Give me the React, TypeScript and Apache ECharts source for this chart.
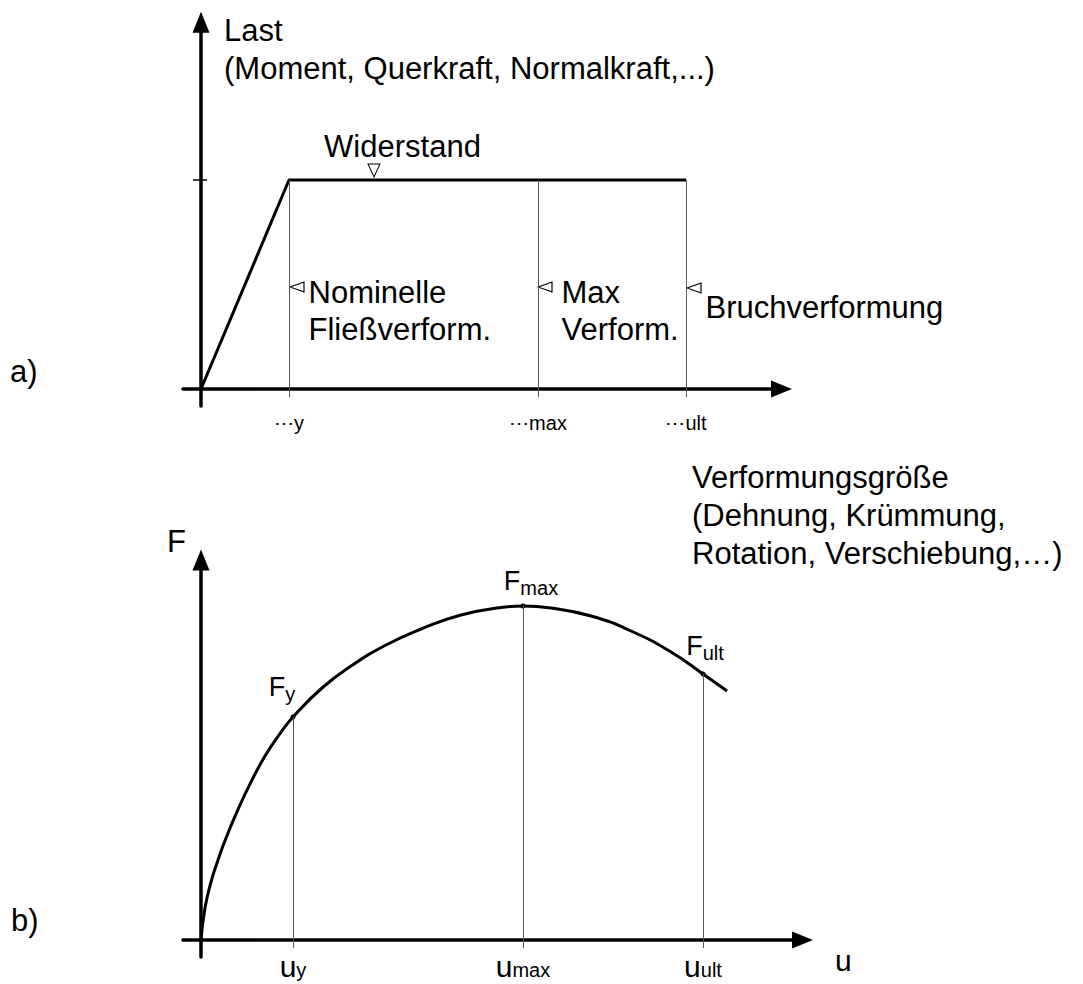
import React, { useEffect, useRef } from 'react';
import * as echarts from 'echarts';

// ---------- Panel a) : Last / Verformung (bilinear idealisation) ----------
const aDeformation = [0, 88, 485];
const aLoad = [0, 209, 209];
const aResistance = 209;
const aMarkValues = [88, 337, 485];
const aMarkLabels = ['⋯y', '⋯max', '⋯ult'];

const aTriangleX = [173, 96, 344, 493];
const aTriangleY = [218.5, 102, 102, 101];
const aTriangleRotate = [180, 90, 90, 90];

const aNotes = ['Widerstand', 'Nominelle\nFließverform.', 'Max\nVerform.', 'Bruchverformung'];
const aNoteX = [201.5, 107, 360, 504];
const aNoteY = [243, 78, 78, 82];

const aYName = 'Last\n(Moment, Querkraft, Normalkraft,...)';
const aXName = 'Verformungsgröße\n(Dehnung, Krümmung,\nRotation, Verschiebung,…)';

// ---------- Panel b) : F / u ----------
const bU = [0, 4, 10, 16, 25, 39, 50, 64, 78, 92, 121, 150, 185, 220, 260, 300, 322, 350, 390, 430, 470, 502, 526];
const bF = [0, 32, 58, 77, 102, 135, 158, 184, 205, 223, 252, 274, 295, 311, 325, 332.5, 334, 332, 324, 309, 288, 266, 249];
const bKeyU = [92, 322, 502];
const bKeyF = [223, 334, 266];
const bKeySub = ['y', 'max', 'ult'];

const panelLabels = ['a)', 'b)'];

const FONT = "'Liberation Sans', Arial, Helvetica, sans-serif";

function buildOption() {
  const axisLine = {
    show: true,
    onZero: true,
    symbol: ['none', 'triangle'],
    symbolSize: [17, 21],
    lineStyle: { color: '#000', width: 3.5 },
  };
  const thin = { type: 'solid', color: '#5a5a5a', width: 1 };

  const keyLabelDist = [11, 6, 9];
  const keyLabelOffset = [[-11, 0], [8, 0], [2, 0]];

  return {
    animation: false,
    backgroundColor: '#fff',
    textStyle: { fontFamily: FONT, color: '#000' },
    title: [
      {
        text: panelLabels[0], left: 10, top: 356, padding: 0,
        textStyle: { fontSize: 31, fontWeight: 'normal', lineHeight: 31, color: '#000', fontFamily: FONT },
      },
      {
        text: panelLabels[1], left: 11, top: 905, padding: 0,
        textStyle: { fontSize: 31, fontWeight: 'normal', lineHeight: 31, color: '#000', fontFamily: FONT },
      },
    ],
    grid: [
      { left: 183, top: 22.2, width: 598.5, height: 383.8, containLabel: false, outerBoundsMode: 'none' },
      { left: 183, top: 560, width: 619.5, height: 397, containLabel: false, outerBoundsMode: 'none' },
    ],
    xAxis: [
      {
        type: 'value', gridIndex: 0, min: -18, max: 580.5,
        axisLine, axisTick: { show: false }, splitLine: { show: false },
        axisLabel: {
          customValues: aMarkValues,
          formatter: (v: number) => aMarkLabels[aMarkValues.indexOf(v)] ?? '',
          fontSize: 20, lineHeight: 20, margin: 7, color: '#000', fontFamily: FONT,
        },
        name: aXName, nameLocation: 'end', nameGap: -89.5, nameMoveOverlap: false,
        nameTextStyle: {
          fontSize: 31, lineHeight: 38, align: 'left', verticalAlign: 'top',
          padding: [69, 0, 0, 0], color: '#000', fontFamily: FONT,
        },
      },
      {
        type: 'value', gridIndex: 1, min: -18, max: 601.5,
        axisLine, axisTick: { show: false }, splitLine: { show: false },
        axisLabel: {
          customValues: bKeyU,
          formatter: (v: number) => `{u|u}{s|${bKeySub[bKeyU.indexOf(v)] ?? ''}}`,
          margin: -5.5, color: '#000', fontSize: 30,
          rich: {
            u: { fontSize: 30, lineHeight: 28, verticalAlign: 'top', fontFamily: FONT, color: '#000' },
            s: { fontSize: 20, lineHeight: 18, verticalAlign: 'bottom', fontFamily: FONT, color: '#000' },
          },
        },
        name: 'u', nameLocation: 'end', nameGap: 32.5, nameMoveOverlap: false,
        nameTextStyle: {
          fontSize: 30, lineHeight: 30, align: 'left', verticalAlign: 'top',
          padding: [5, 0, 0, 0], color: '#000', fontFamily: FONT,
        },
      },
    ],
    yAxis: [
      {
        type: 'value', gridIndex: 0, min: -17, max: 366.8,
        axisLine, axisTick: { show: false }, axisLabel: { show: false }, splitLine: { show: false },
        name: aYName, nameLocation: 'end', nameGap: 10.8, nameMoveOverlap: false,
        nameTextStyle: {
          fontSize: 31, lineHeight: 38, align: 'left', verticalAlign: 'top',
          padding: [0, 0, 0, 23], color: '#000', fontFamily: FONT,
        },
      },
      {
        type: 'value', gridIndex: 1, min: -17, max: 380,
        axisLine, axisTick: { show: false }, axisLabel: { show: false }, splitLine: { show: false },
        name: 'F', nameLocation: 'end', nameGap: 19, nameMoveOverlap: false,
        nameTextStyle: {
          fontSize: 31, lineHeight: 31, align: 'right', verticalAlign: 'middle',
          padding: [0, 15, 0, 0], color: '#000', fontFamily: FONT,
        },
      },
    ],
    series: [
      {
        name: 'Last-Verformung',
        type: 'line', xAxisIndex: 0, yAxisIndex: 0,
        data: aDeformation.map((x, i) => [x, aLoad[i]]),
        symbol: 'none', showSymbol: false, silent: true,
        lineStyle: { color: '#000', width: 3 },
        markLine: {
          silent: true, symbol: ['none', 'none'], label: { show: false },
          lineStyle: thin,
          data: [
            ...aMarkValues.map((v) => [{ coord: [v, -8] }, { coord: [v, aResistance] }]),
            [
              { coord: [-8, aResistance], lineStyle: { type: 'solid', color: '#000', width: 1.5 } },
              { coord: [6, aResistance] },
            ],
          ],
        },
      },
      {
        name: 'Markierungen',
        type: 'scatter', xAxisIndex: 0, yAxisIndex: 0, silent: true, clip: false,
        symbol: 'triangle',
        data: aTriangleX.map((x, i) => ({
          value: [x, aTriangleY[i]],
          symbolRotate: aTriangleRotate[i],
          symbolSize: i === 0 ? [12, 13] : [10, 14],
        })),
        itemStyle: { color: '#fff', borderColor: '#000', borderWidth: 1, opacity: 1 },
      },
      {
        name: 'Beschriftung',
        type: 'scatter', xAxisIndex: 0, yAxisIndex: 0, silent: true, clip: false,
        symbol: 'circle', symbolSize: 1,
        itemStyle: { color: 'rgba(255,255,255,0)', opacity: 1 },
        data: aNoteX.map((x, i) => ({
          value: [x, aNoteY[i]],
          name: aNotes[i],
          label: i === 0 ? { position: 'inside' } : undefined,
        })),
        label: {
          show: true, formatter: '{b}', position: 'right', distance: 0, opacity: 1,
          fontSize: 31, lineHeight: 37, color: '#000', fontFamily: FONT,
        },
      },
      {
        name: 'F-u',
        type: 'line', xAxisIndex: 1, yAxisIndex: 1,
        data: bU.map((u, i) => [u, bF[i]]),
        smooth: 0.5, symbol: 'none', showSymbol: false, silent: true,
        lineStyle: { color: '#000', width: 3 },
        markLine: {
          silent: true, symbol: ['none', 'none'], label: { show: false },
          lineStyle: thin,
          data: bKeyU.map((u, i) => [{ coord: [u, -8] }, { coord: [u, bKeyF[i]] }]),
        },
      },
      {
        name: 'Kennpunkte',
        type: 'scatter', xAxisIndex: 1, yAxisIndex: 1, silent: true, clip: false,
        symbol: 'circle', symbolSize: 5,
        itemStyle: { color: '#000', opacity: 1 },
        data: bKeyU.map((u, i) => ({
          value: [u, bKeyF[i]],
          label: {
            formatter: `{m|F}{s|${bKeySub[i]}}`,
            distance: keyLabelDist[i],
            offset: keyLabelOffset[i],
          },
        })),
        label: {
          show: true, position: 'top', color: '#000', opacity: 1,
          rich: {
            m: { fontSize: 27, lineHeight: 30, verticalAlign: 'top', fontFamily: FONT, color: '#000' },
            s: { fontSize: 20, lineHeight: 20, verticalAlign: 'bottom', fontFamily: FONT, color: '#000' },
          },
        },
      },
    ],
  };
}

export default function App() {
  const ref = useRef<HTMLDivElement>(null);
  useEffect(() => {
    if (!ref.current) return;
    const chart = echarts.init(ref.current, null, { renderer: 'svg' });
    chart.setOption(buildOption() as any);
    return () => chart.dispose();
  }, []);
  return (
    <div
      ref={ref}
      style={{ position: 'fixed', left: 0, top: 0, width: 1083, height: 984, background: '#fff' }}
    />
  );
}
